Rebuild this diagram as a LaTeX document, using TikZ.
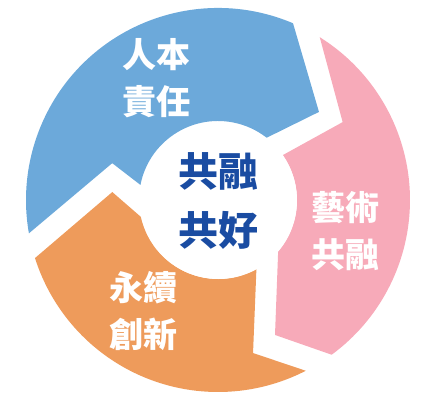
\documentclass[tikz,border=0pt]{standalone}
\usepackage{fontspec}
\usepackage{xcolor}
\usepackage{tikz}
\newfontfamily\cjk{Noto Sans CJK TC}
\definecolor{cycblue}{HTML}{6CA9DA}
\definecolor{cycpink}{HTML}{F7AAB9}
\definecolor{cycorange}{HTML}{EE9B5B}
\definecolor{hubtext}{HTML}{1A4CA2}
\tikzset{
  seglabel/.style={text=white, align=center, inner sep=0pt, font=\cjk\bfseries\fontsize{34}{47}\selectfont},
  hub/.style={circle, fill=white, minimum size=157pt, inner sep=0pt, align=center, text=hubtext, font=\cjk\bfseries\fontsize{40}{59}\selectfont}
}

\begin{document}
\begin{tikzpicture}[x=1pt, y=1pt]
\useasboundingbox (-218,-200) rectangle (222,200);

\fill[cycblue] (67:192) arc[start angle=67, end angle=190, radius=192] -- (160.8:112) -- (169:79) arc[start angle=169, end angle=52, radius=79] -- (41.1:134) -- cycle;
\fill[cycpink] (58:192) arc[start angle=58, end angle=-53.7, radius=192] -- (-67.1:146.5) -- (-40.4:79) arc[start angle=-40.4, end angle=34.7, radius=79] -- (32:147) -- cycle;
\fill[cycorange] (-62.8:192) arc[start angle=-62.8, end angle=-162.4, radius=192] -- (175.7:106) -- (-167.7:79) arc[start angle=-167.7, end angle=-60.9, radius=79] -- (-77.1:157) -- cycle;

\node[hub] (hub) at (0.5,-0.5) {共融\\共好};
\node[seglabel] (renben) at (-61,122) {人本\\責任};
\node[seglabel] (yishu) at (128,-31) {藝術\\共融};
\node[seglabel] (yongxu) at (-74.5,-111.5) {永續\\創新};
\end{tikzpicture}
\end{document}
